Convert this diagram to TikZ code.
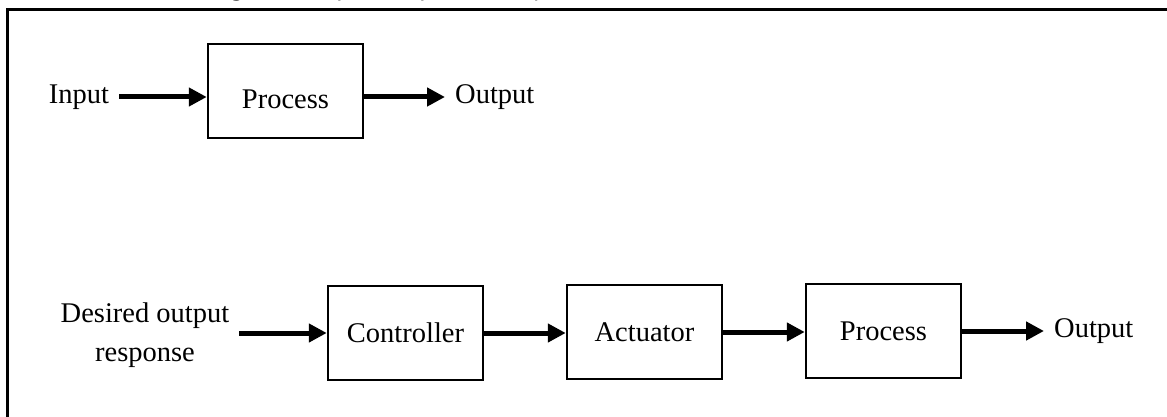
\documentclass[tikz,border=0pt]{standalone}
\usepackage{fontspec}
\setmainfont{Liberation Serif}
\newfontfamily\capfont{Carlito}
\usetikzlibrary{arrows.meta}
\begin{document}
\begin{tikzpicture}[x=1pt,y=-1pt,
  blk/.style={draw, line width=2.5pt, minimum width=155pt, minimum height=94pt, inner sep=0pt, font=\fontsize{28.5}{34}\selectfont},
  lbl/.style={inner xsep=10pt, inner ysep=0pt, font=\fontsize{28.5}{39}\selectfont, align=center},
  flow/.style={line width=5pt, -{Triangle[length=18pt,width=18pt]}}]
\useasboundingbox (0,0) rectangle (1167,417);
% clipped caption (only descenders visible)
\begin{scope}
\clip (0,0) rectangle (1167,8);
\node[anchor=base west, inner sep=0pt, font=\capfont\itshape\fontsize{27}{30}\selectfont] (cap) at (133,-3) {Block diagram of open-loop control system};
\end{scope}
% frame
\draw[line width=3pt] (7,417) -- (7,10) -- (1167,10);
% top row
\node[lbl] (in) at (79,97) {Input};
\node[blk, text height=35pt, text depth=0pt] (p1) at (285.5,91) {Process};
\node[lbl, anchor=west] (out1) at (445,97) {Output};
\draw[flow] (in.east) -- (in.east -| p1.west);
\draw[flow] (p1.east |- out1.west) -- (out1.west);
% bottom row
\node[lbl] (des) at (145,335) {Desired output\\response};
\node[blk] (ctrl) at (405.5,333) {Controller};
\node[blk] (act) at (644.5,332) {Actuator};
\node[blk] (p2) at (883.5,331) {Process};
\node[lbl, anchor=west] (out2) at (1044,331) {Output};
\draw[flow] (des.east |- ctrl.west) -- (ctrl.west);
\draw[flow] (ctrl.east) -- (ctrl.east -| act.west);
\draw[flow] (act.east) -- (act.east -| p2.west);
\draw[flow] (p2.east) -- (out2.west);
\end{tikzpicture}
\end{document}
